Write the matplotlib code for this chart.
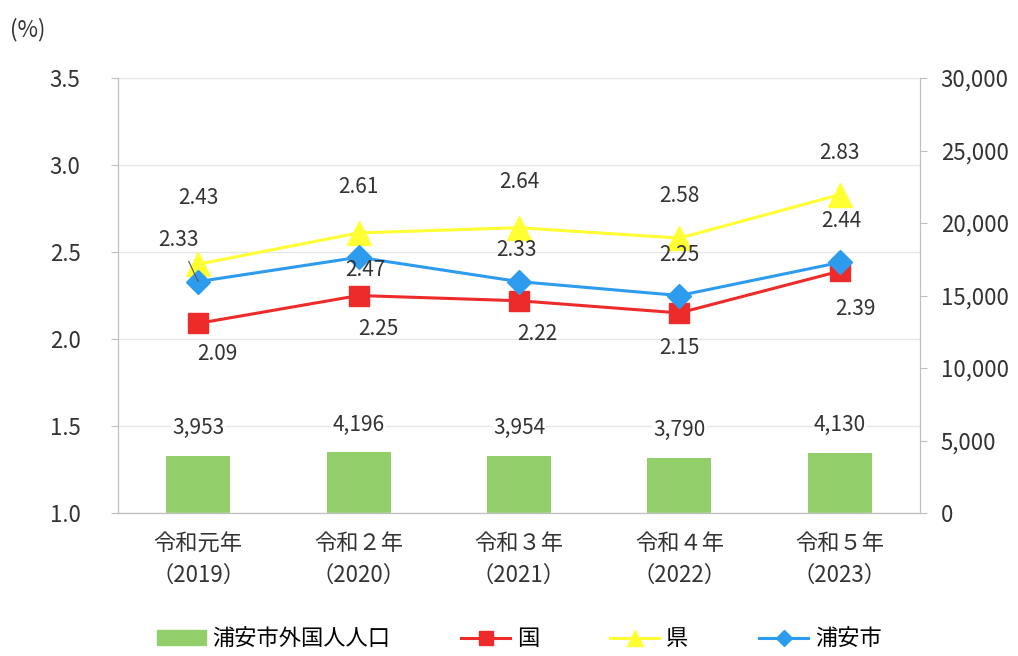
import numpy as np
import matplotlib
matplotlib.use("Agg")
import matplotlib.pyplot as plt
from matplotlib.ticker import FuncFormatter
from matplotlib.patches import Patch

plt.rcParams['font.family'] = ['Noto Sans CJK JP', 'DejaVu Sans']

# データ
years = ["令和元年\n（2019）", "令和２年\n（2020）", "令和３年\n（2021）", "令和４年\n（2022）", "令和５年\n（2023）"]
population = [3953, 4196, 3954, 3790, 4130]
kuni = [2.09, 2.25, 2.22, 2.15, 2.39]
ken = [2.43, 2.61, 2.64, 2.58, 2.83]
urayasu = [2.33, 2.47, 2.33, 2.25, 2.44]

# ラベル位置の調整 (points)
ken_off = [(0, 48), (0, 33), (0, 33), (0, 30), (0, 30)]
urayasu_off = [(-14, 30), (5, -9), (-2, 23), (0, 29), (1, 30)]
kuni_off = [(14, -22), (14, -24), (13, -24), (0, -25), (11, -27)]

c_green = "#92CF6A"
c_red = "#EE2B2B"
c_yellow = "#FFFF33"
c_blue = "#2E9CEE"
c_text = "#333333"
c_axis = "#BFBFBF"

fig = plt.figure(figsize=(10.18, 6.56), dpi=100)
ax = fig.add_axes([0.1159, 0.218, 0.7878, 0.663])
ax2 = ax.twinx()
ax.set_zorder(ax2.get_zorder() + 1)
ax.patch.set_visible(False)

x = np.arange(len(years))

# 棒グラフ (右軸)
ax2.bar(x, population, width=0.4, color=c_green, zorder=2)
for xi, v in zip(x, population):
    ax.annotate(f"{v:,}", (xi, v), xycoords=ax2.transData, xytext=(0, 12),
                textcoords="offset points", ha="center", va="bottom", fontsize=15,
                color=c_text, zorder=6,
                bbox=dict(boxstyle="square,pad=0.05", fc="white", ec="none"))
ax2.set_ylim(0, 30000)
ax2.set_yticks(np.arange(0, 30001, 5000))
ax2.yaxis.set_major_formatter(FuncFormatter(lambda v, p: f"{int(v):,}"))

# 折れ線 (左軸)
ax.plot(x, kuni, color=c_red, lw=2.2, marker="s", ms=15, label="国", zorder=3)
ax.plot(x, ken, color=c_yellow, lw=2.2, marker="^", ms=17, label="県", zorder=4)
ax.plot(x, urayasu, color=c_blue, lw=2.2, marker="D", ms=12, label="浦安市", zorder=5)

for xi, v, off in zip(x, ken, ken_off):
    ax.annotate(f"{v:.2f}", (xi, v), xytext=off, textcoords="offset points",
                ha="center", va="center", fontsize=15, color=c_text)
for i, (xi, v, off) in enumerate(zip(x, urayasu, urayasu_off)):
    if i == 0:
        ax.annotate(f"{v:.2f}", (xi, v), xytext=off, textcoords="offset points",
                    ha="center", va="center", fontsize=15, color=c_text, zorder=6,
                    arrowprops=dict(arrowstyle="-", color="#555555", lw=0.8,
                                    shrinkA=6, shrinkB=0))
    else:
        ax.annotate(f"{v:.2f}", (xi, v), xytext=off, textcoords="offset points",
                    ha="center", va="center", fontsize=15, color=c_text, zorder=6)
for xi, v, off in zip(x, kuni, kuni_off):
    ax.annotate(f"{v:.2f}", (xi, v), xytext=off, textcoords="offset points",
                ha="center", va="center", fontsize=15, color=c_text)

ax.set_ylim(1.0, 3.5)
ax.set_yticks(np.arange(1.0, 3.51, 0.5))
ax.yaxis.set_major_formatter(FuncFormatter(lambda v, p: f"{v:.1f}"))
ax.set_xlim(-0.5, len(years) - 0.5)
ax.set_xticks(x)
ax.set_xticklabels(years, fontsize=16, color=c_text, linespacing=1.45)
ax.grid(axis="y", color="#E6E6E6", lw=1)
ax.set_axisbelow(True)

for a in (ax, ax2):
    a.tick_params(axis="y", labelsize=16, colors=c_text, length=5, color=c_axis)
    a.tick_params(axis="x", length=0, pad=14)
    for s in a.spines.values():
        s.set_color(c_axis)
    a.spines["top"].set_visible(False)
ax.tick_params(axis="y", pad=22)
ax2.tick_params(axis="y", pad=10)

fig.text(0.01, 0.945, "(%)", fontsize=16, color=c_text)

# 凡例
h1, l1 = ax.get_legend_handles_labels()
handles = [Patch(color=c_green)] + h1
labels = ["浦安市外国人人口"] + l1
fig.legend(handles, labels, loc="lower center", ncol=4, frameon=False,
           bbox_to_anchor=(0.51, -0.022), fontsize=16, handlelength=2.2,
           columnspacing=3.2, handletextpad=0.3, markerscale=0.7)

fig.savefig("out.png", dpi=100)
